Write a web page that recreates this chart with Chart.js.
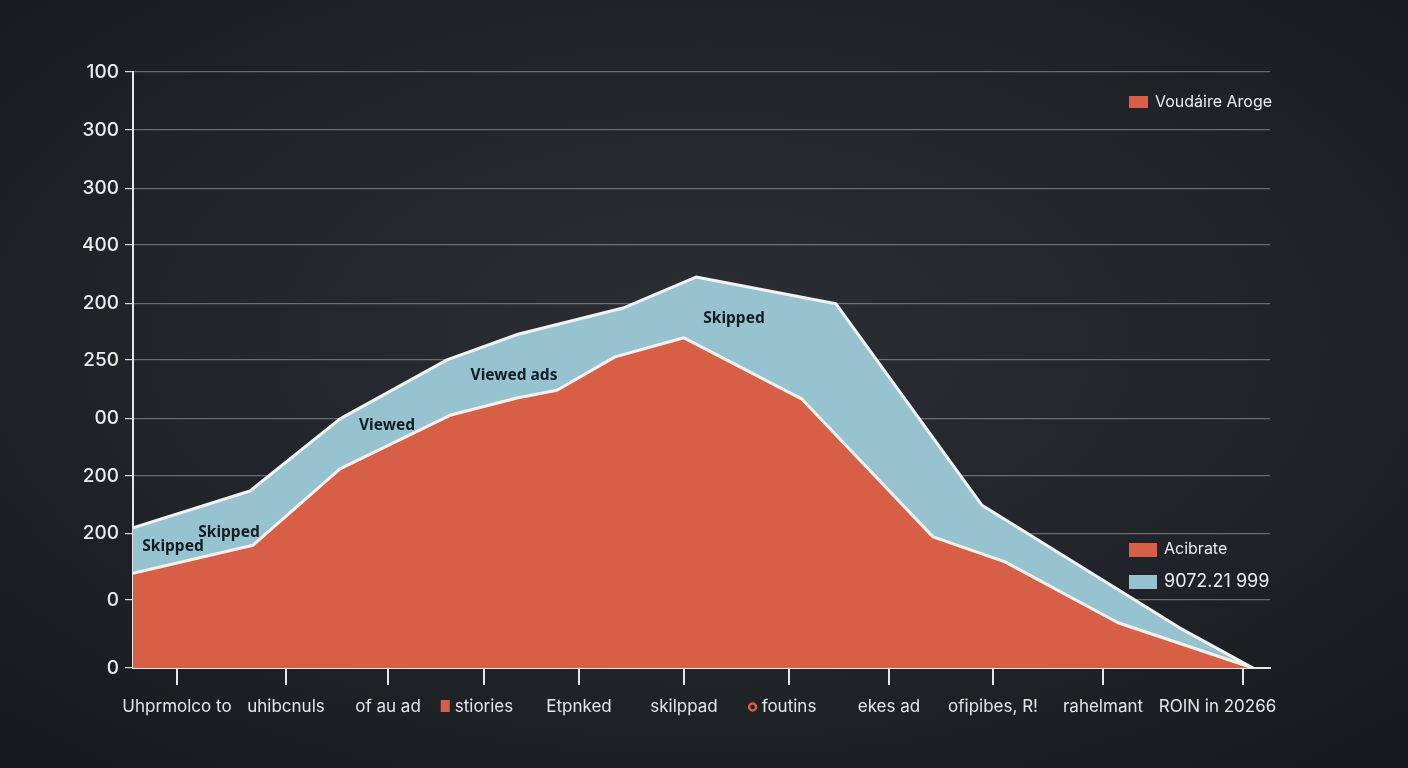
<!DOCTYPE html>
<html>
<head>
<meta charset="utf-8">
<script src="https://cdn.jsdelivr.net/npm/chart.js@4.4.0/dist/chart.umd.min.js"></script>
<style>
  html, body {
    margin: 0; padding: 0; width: 1408px; height: 768px; overflow: hidden;
    background: radial-gradient(ellipse 80% 80% at 50% 45%, #2b2f34 0%, #212529 50%, #141619 100%);
  }
  canvas { display: block; }
</style>
</head>
<body>
<canvas id="myChart" width="1408" height="768"></canvas>
<script>
  // осі
  const xTickVals = [0.44, 1.53, 2.55, 3.51, 4.46, 5.51, 6.56, 7.56, 8.60, 9.70, 11.10];
  const xTickLabels = ['Uhprmolco to', 'uhibcnuls', 'of au ad', 'stiories', 'Etpnked', 'skilppad',
    'foutins', 'ekes ad', 'ofipibes, R!', 'rahelmant', 'ROIN in 20266\u2002\u2002\u2002\u2002\u2002\u2002'];
  const yTickVals = [0, 11.4, 22.6, 32.2, 41.9, 51.7, 61.2, 71.0, 80.5, 90.3, 100];
  const yTickLabels = ['0', '0', '200', '200', '00', '250', '200', '400', '300', '300', '100'];

  // червона (нижня) серія
  const lowerX = [0, 1.20, 2.07, 3.17, 3.84, 4.24, 4.82, 5.51, 6.69, 8.00, 8.72, 9.85, 11.20];
  const lowerY = [15.9, 20.6, 33.4, 42.4, 45.3, 46.6, 52.2, 55.4, 45.1, 22.0, 17.8, 7.6, 0];

  // блакитна (верхня) серія
  const upperX = [0, 1.17, 2.07, 3.14, 3.85, 4.90, 5.63, 7.03, 8.49, 10.47, 11.20];
  const upperY = [23.5, 29.7, 41.8, 51.7, 56.0, 60.4, 65.6, 61.1, 27.3, 6.7, 0];

  // підписи всередині області
  const noteText = ['Skipped', 'Skipped', 'Viewed', 'Viewed ads', 'Skipped'];
  const noteX = [0.40, 0.96, 2.54, 3.81, 6.01];
  const noteY = [20.3, 22.8, 40.6, 49.0, 58.7];

  const red = '#d65f45';
  const blue = '#96c3cf';
  const font = 'Inter, "Noto Sans", sans-serif';

  const toPoints = (xs, ys) => xs.map((x, i) => ({ x: x, y: ys[i] }));

  const extras = {
    id: 'extras',
    afterDraw(chart) {
      const ctx = chart.ctx;
      const xs = chart.scales.x, ys = chart.scales.y;
      ctx.save();
      // підписи на областях
      ctx.fillStyle = '#141c24';
      ctx.font = 'bold 15.5px "Noto Sans", sans-serif';
      ctx.textAlign = 'center';
      ctx.textBaseline = 'middle';
      noteText.forEach((t, i) => {
        ctx.fillText(t, xs.getPixelForValue(noteX[i]), ys.getPixelForValue(noteY[i]));
      });

      // легенди
      ctx.textAlign = 'left';
      ctx.fillStyle = red;
      ctx.fillRect(1129, 96, 19, 12);
      ctx.fillStyle = '#ececec';
      ctx.font = '16px ' + font;
      ctx.fillText('Voudáire Aroge', 1155, 102);

      ctx.fillStyle = red;
      ctx.fillRect(1129, 543, 28, 14);
      ctx.fillStyle = blue;
      ctx.fillRect(1129, 575, 28, 14);
      ctx.fillStyle = '#ececec';
      ctx.font = '16px ' + font;
      ctx.fillText(chart.data.datasets[0].label, 1164, 549);
      ctx.font = '18px ' + font;
      ctx.fillText(chart.data.datasets[1].label, 1164, 582);

      // значки біля підписів осі X
      ctx.font = '17px ' + font;
      const w3 = ctx.measureText(xTickLabels[3]).width;
      const p3 = xs.getPixelForValue(xTickVals[3]);
      ctx.fillStyle = red;
      ctx.fillRect(p3 - w3 / 2 - 14, 700, 9, 12);
      const w6 = ctx.measureText(xTickLabels[6]).width;
      const p6 = xs.getPixelForValue(xTickVals[6]);
      ctx.strokeStyle = red;
      ctx.lineWidth = 2.5;
      ctx.beginPath();
      ctx.arc(p6 - w6 / 2 - 9, 707, 3.5, 0, Math.PI * 2);
      ctx.stroke();
      ctx.restore();
    }
  };

  const ctx = document.getElementById('myChart').getContext('2d');

  const myChart = new Chart(ctx, {
    type: 'line',
    data: {
      datasets: [{
        label: 'Acibrate',
        data: toPoints(lowerX, lowerY),
        backgroundColor: red,
        borderColor: '#f2f2f2',
        borderWidth: 3,
        fill: 'origin',
      }, {
        label: '9072.21 999',
        data: toPoints(upperX, upperY),
        backgroundColor: blue,
        borderColor: '#f2f2f2',
        borderWidth: 3,
        fill: 'origin',
      }],
    },
    options: {
      responsive: false,
      animation: false,
      devicePixelRatio: 1,
      layout: { padding: { top: 72, right: 138, left: 0, bottom: 0 } },
      elements: { point: { radius: 0 }, line: { tension: 0, borderJoinStyle: 'round' } },
      plugins: { legend: { display: false }, tooltip: { enabled: false } },
      scales: {
        x: {
          type: 'linear',
          min: 0,
          max: 11.37,
          afterFit: s => { s.height = 100; },
          afterBuildTicks: s => { s.ticks = xTickVals.map(v => ({ value: v })); },
          grid: { drawOnChartArea: false, tickLength: 17, tickColor: '#e6e6e6', lineWidth: 2 },
          border: { color: '#e6e6e6', width: 2 },
          ticks: {
            autoSkip: false, maxRotation: 0, padding: 12,
            color: '#e6e6e6', font: { family: font, size: 17 },
            callback: (v, i) => xTickLabels[i],
          },
        },
        y: {
          min: 0,
          max: 100,
          afterFit: s => { s.width = 133; },
          afterBuildTicks: s => { s.ticks = yTickVals.map(v => ({ value: v })); },
          grid: { color: 'rgba(190,195,200,0.45)', lineWidth: 1.2, tickLength: 8, tickColor: '#d8d8d8' },
          border: { color: '#e6e6e6', width: 2 },
          ticks: {
            autoSkip: false, padding: 6,
            color: '#ececec', font: { family: font, size: 19, weight: 500 },
            callback: (v, i) => yTickLabels[i],
          },
        },
      },
    },
    plugins: [extras],
  });
</script>
</body>
</html>
